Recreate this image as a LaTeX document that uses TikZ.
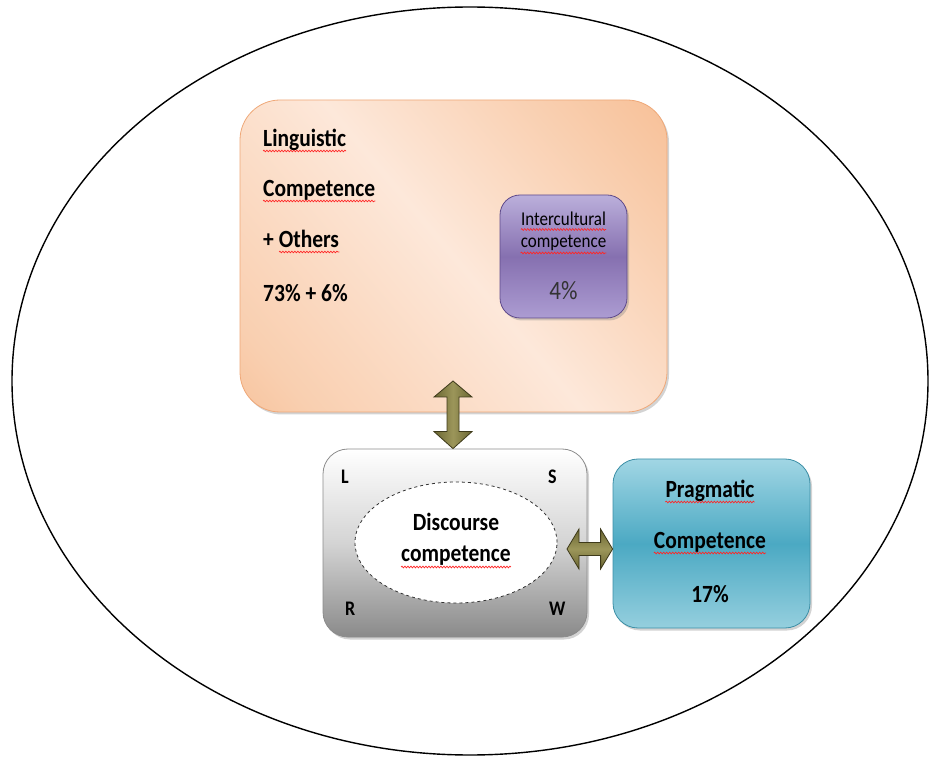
\documentclass[tikz,border=0pt]{standalone}
\usepackage{fontspec}
\setmainfont{Carlito}
\usetikzlibrary{shadows,calc,shapes.geometric,decorations.pathmorphing}
\definecolor{peachin}{HTML}{FDE8DA}
\definecolor{peachmid}{HTML}{F9CFB0}
\definecolor{peachout}{HTML}{F5B07D}
\definecolor{peachline}{HTML}{EFA878}
\definecolor{purtop}{HTML}{BBAFDB}
\definecolor{purmid}{HTML}{8670B0}
\definecolor{purbot}{HTML}{AC9CD2}
\definecolor{purline}{HTML}{5F4A8B}
\definecolor{tealtop}{HTML}{A1D6E4}
\definecolor{tealmid}{HTML}{4BA9C3}
\definecolor{tealbot}{HTML}{95CFDE}
\definecolor{tealline}{HTML}{3C8FA6}
\definecolor{greybot}{HTML}{8A8A8A}
\definecolor{greymid}{HTML}{D4D4D4}
\definecolor{olivedark}{HTML}{6A6632}
\definecolor{olivelight}{HTML}{9C965A}
\definecolor{oliveline}{HTML}{3E3A1A}
\pgfdeclarehorizontalshading{peachdiag}{100bp}{color(0bp)=(peachout); color(22bp)=(peachmid); color(50bp)=(peachin); color(72bp)=(peachmid); color(100bp)=(peachout)}
\newcommand{\tallt}[1]{\scalebox{1}[1.15]{#1}}
\begin{document}
\begin{tikzpicture}[x=1pt,y=-1pt,
  box/.style={rounded corners=#1, drop shadow={shadow xshift=2pt,shadow yshift=-2.5pt,opacity=0.35}},
  bigtxt/.style={font=\bfseries\fontsize{21.5}{25}\selectfont, inner sep=0pt},
  lettxt/.style={font=\bfseries\fontsize{18}{21}\selectfont, inner sep=0pt},
  wavy/.style={draw=red!85, line width=0.7pt, decorate, decoration={snake, segment length=3pt, amplitude=0.8pt}},
  arrowv/.style={draw=oliveline, line width=0.8pt, left color=olivedark, right color=olivedark, middle color=olivelight},
  arrowh/.style={draw=oliveline, line width=0.8pt, top color=olivedark, bottom color=olivedark, middle color=olivelight}]
\useasboundingbox (0,0) rectangle (930,759);
% outer ellipse
\draw[line width=1.4pt] (470,381) ellipse [x radius=458pt, y radius=374pt];
% linguistic box
\node[box=40pt, draw=peachline, line width=0.8pt, shading=peachdiag, shading angle=40,
      minimum width=427pt, minimum height=312pt] (ling) at (453.5,256) {};
\node[bigtxt, anchor=base west] (l1) at (263,147) {\tallt{Linguistic}};
\node[bigtxt, anchor=base west] (l2) at (263,197) {\tallt{Competence}};
\node[bigtxt, anchor=base west] (l3) at (263,248) {\tallt{+ Others}};
\node[bigtxt, anchor=base west] (l4) at (263,302) {\tallt{73\% + 6\%}};
\draw[wavy] ($(l1.base west)+(0,4)$) -- ($(l1.base east)+(0,4)$);
\draw[wavy] ($(l2.base west)+(0,4)$) -- ($(l2.base east)+(0,4)$);
\draw[wavy] ($(l3.base west)+(16,4)$) -- ($(l3.base east)+(0,4)$);
% intercultural box
\node[box=20pt, draw=purline, line width=0.8pt, top color=purtop, bottom color=purbot, middle color=purmid,
      minimum width=127pt, minimum height=123pt] (inter) at (563.5,256.5) {};
\node[font=\fontsize{17}{20}\selectfont, inner sep=0pt, anchor=base] (i1) at (563.5,226) {\tallt{Intercultural}};
\node[font=\fontsize{17}{20}\selectfont, inner sep=0pt, anchor=base] (i2) at (563.5,248) {\tallt{competence}};
\node[font=\fontsize{23}{27}\selectfont, inner sep=0pt, anchor=base, text=black!80] (i3) at (563.5,300) {\tallt{4\%}};
\draw[wavy] ($(i1.base west)+(0,3.5)$) -- ($(i1.base east)+(0,3.5)$);
\draw[wavy] ($(i2.base west)+(0,5)$) -- ($(i2.base east)+(0,5)$);
% discourse box
\node[box=25pt, draw=black!45, line width=0.8pt, top color=white, bottom color=greybot, middle color=greymid,
      minimum width=264pt, minimum height=188pt] (disc) at (455,543) {};
\node[draw=black!80, dashed, line width=0.8pt, fill=white, ellipse, minimum width=202pt, minimum height=121pt, inner sep=0pt] (dell) at (456,542.5) {};
\node[bigtxt, anchor=base] (d1) at (456,530) {\tallt{Discourse}};
\node[bigtxt, anchor=base] (d2) at (456,561) {\tallt{competence}};
\draw[wavy] ($(d2.base west)+(0,6)$) -- ($(d2.base east)+(0,6)$);
\node[lettxt, anchor=base west] (ll) at (341,484) {\tallt{L}};
\node[lettxt, anchor=base west] (ls) at (548,484) {\tallt{S}};
\node[lettxt, anchor=base west] (lr) at (345,615) {\tallt{R}};
\node[lettxt, anchor=base west] (lw) at (549,615) {\tallt{W}};
% pragmatic box
\node[box=25pt, draw=tealline, line width=0.8pt, top color=tealtop, bottom color=tealbot, middle color=tealmid,
      minimum width=197pt, minimum height=169pt] (prag) at (711.5,543.5) {};
\node[bigtxt, anchor=base] (p1) at (710,497) {\tallt{Pragmatic}};
\node[bigtxt, anchor=base] (p2) at (710,548) {\tallt{Competence}};
\node[bigtxt, anchor=base] (p3) at (710,602) {\tallt{17\%}};
\draw[wavy] ($(p1.base west)+(0,5)$) -- ($(p1.base east)+(0,5)$);
\draw[wavy] ($(p2.base west)+(0,5)$) -- ($(p2.base east)+(0,5)$);
% vertical double arrow between linguistic and discourse boxes
\coordinate (vt) at (453,381);
\coordinate (vb) at (vt |- disc.north);
\path[arrowv] (vt) -- ($(vt)+(19,16)$) -- ($(vt)+(6,16)$) -- ($(vb)+(6,-17)$) -- ($(vb)+(19,-17)$) -- (vb)
  -- ($(vb)+(-19,-17)$) -- ($(vb)+(-6,-17)$) -- ($(vt)+(-6,16)$) -- ($(vt)+(-19,16)$) -- cycle;
% horizontal double arrow between discourse ellipse and pragmatic box
\coordinate (hl) at (567,549);
\coordinate (hr) at (prag.west |- hl);
\path[arrowh] (hl) -- ($(hl)+(12,-20)$) -- ($(hl)+(12,-6.5)$) -- ($(hr)+(-12,-6.5)$) -- ($(hr)+(-12,-20)$) -- (hr)
  -- ($(hr)+(-12,20)$) -- ($(hr)+(-12,6.5)$) -- ($(hl)+(12,6.5)$) -- ($(hl)+(12,20)$) -- cycle;
\end{tikzpicture}
\end{document}
